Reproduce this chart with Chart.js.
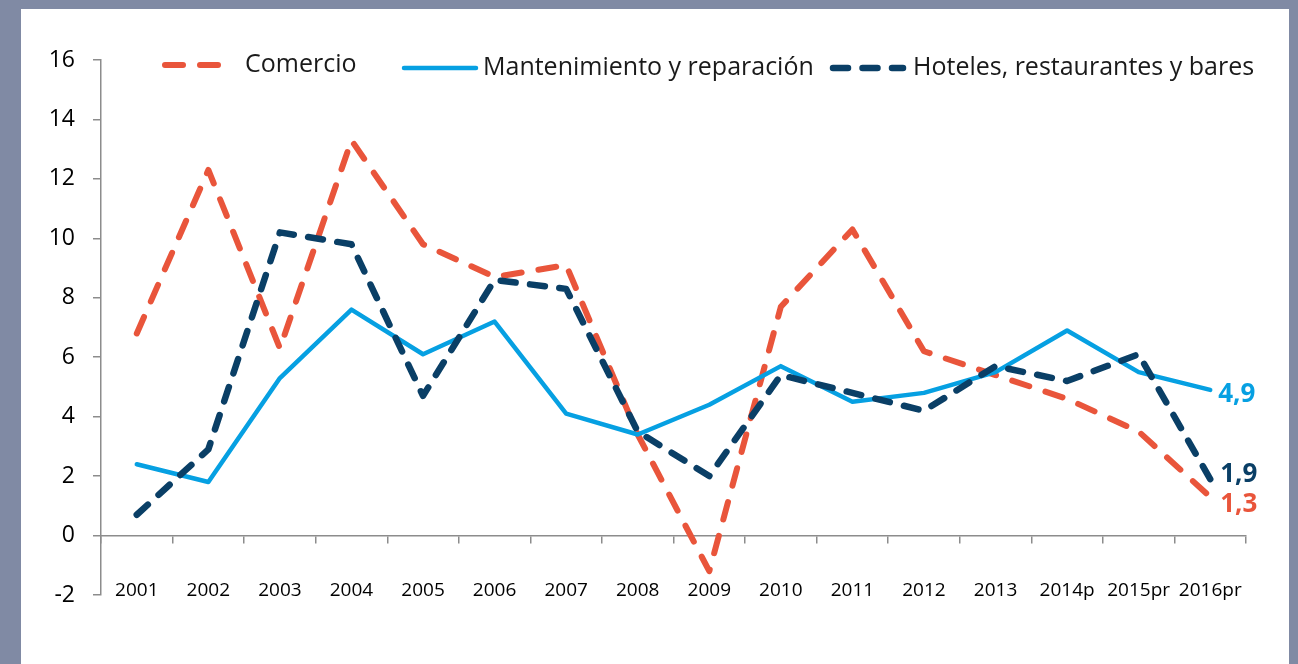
<!DOCTYPE html>
<html>
<head>
<meta charset="utf-8">
<script src="https://cdn.jsdelivr.net/npm/chart.js@4.4.1/dist/chart.umd.min.js"></script>
<style>
  html, body { margin: 0; padding: 0; background: #808aa4; overflow: hidden; }
  #panel { position: absolute; left: 21px; top: 9px; width: 1268px; height: 655px; background: #fff; }
  #wrap { position: absolute; left: 0; top: 0; width: 1298px; height: 664px; }
</style>
</head>
<body>
<div id="panel"></div>
<div id="wrap"><canvas id="chart"></canvas></div>
<script>
// categories (years) and the three series
var categories = ['2001', '2002', '2003', '2004', '2005', '2006', '2007', '2008',
  '2009', '2010', '2011', '2012', '2013', '2014p', '2015pr', '2016pr'];
var comercio = [6.8, 12.3, 6.3, 13.3, 9.8, 8.7, 9.1, 3.4, -1.2, 7.7, 10.3, 6.2, 5.4, 4.6, 3.5, 1.3];
var mantenimiento = [2.4, 1.8, 5.3, 7.6, 6.1, 7.2, 4.1, 3.4, 4.4, 5.7, 4.5, 4.8, 5.5, 6.9, 5.5, 4.9];
var hoteles = [0.7, 2.9, 10.2, 9.8, 4.7, 8.6, 8.3, 3.5, 2.0, 5.4, 4.8, 4.2, 5.7, 5.2, 6.1, 1.9];
var seriesNames = ['Comercio', 'Mantenimiento y reparación', 'Hoteles, restaurantes y bares'];

// y axis range
var yMin = -2;
var yMax = 16;
var yStep = 2;

var FONT = '"Open Sans", "Noto Sans", sans-serif';
var AXIS_GREY = '#8c8c8c';

// where each legend entry sits (line start, line end, text start, middle y)
var legendSpots = [
  { x0: 165, x1: 222, tx: 245, y: 65 },
  { x0: 404, x1: 476, tx: 483, y: 68 },
  { x0: 833, x1: 903, tx: 913, y: 68 }
];

// shift of the value label next to the last point of each series
var endLabelShift = [
  { dx: 10, dy: 15 },
  { dx: 8, dy: 12 },
  { dx: 10, dy: 3 }
];

// legend drawn by hand, the original one overlaps the plot area
var inlineLegend = {
  id: 'inlineLegend',
  afterDraw: function(chart) {
    var ctx = chart.ctx;
    chart.data.datasets.forEach(function(ds, i) {
      var spot = legendSpots[i];
      ctx.save();
      ctx.strokeStyle = ds.borderColor;
      ctx.lineWidth = ds.borderWidth;
      ctx.lineCap = 'round';
      ctx.setLineDash(ds.borderDash || []);
      ctx.beginPath();
      ctx.moveTo(spot.x0, spot.y);
      ctx.lineTo(spot.x1, spot.y);
      ctx.stroke();
      ctx.setLineDash([]);
      ctx.fillStyle = '#1a1a1a';
      ctx.font = '25px ' + FONT;
      ctx.textBaseline = 'middle';
      ctx.fillText(ds.label, spot.tx, spot.y);
      ctx.restore();
    });
  }
};

// last value printed at the end of each line
var endLabels = {
  id: 'endLabels',
  afterDatasetsDraw: function(chart) {
    var ctx = chart.ctx;
    chart.data.datasets.forEach(function(ds, i) {
      var meta = chart.getDatasetMeta(i);
      var last = meta.data[meta.data.length - 1];
      var value = ds.data[ds.data.length - 1];
      ctx.save();
      ctx.font = 'bold 26px ' + FONT;
      ctx.fillStyle = ds.borderColor;
      ctx.textBaseline = 'alphabetic';
      ctx.fillText(value.toFixed(1).replace('.', ','), last.x + endLabelShift[i].dx, last.y + endLabelShift[i].dy);
      ctx.restore();
    });
  }
};

var ctx = document.getElementById('chart').getContext('2d');

var chart = new Chart(ctx, {
  type: 'line',
  data: {
    labels: categories,
    datasets: [
      {
        label: seriesNames[0],
        data: comercio,
        borderColor: '#e9553b',
        borderWidth: 6,
        borderDash: [18, 17],
        borderCapStyle: 'round',
        borderJoinStyle: 'round',
        pointRadius: 0,
        tension: 0,
        order: 3
      },
      {
        label: seriesNames[1],
        data: mantenimiento,
        borderColor: '#06a0e2',
        borderWidth: 4.5,
        borderCapStyle: 'round',
        borderJoinStyle: 'round',
        pointRadius: 0,
        tension: 0,
        order: 2
      },
      {
        label: seriesNames[2],
        data: hoteles,
        borderColor: '#0a3f66',
        borderWidth: 6.5,
        borderDash: [15, 14.5],
        borderCapStyle: 'round',
        borderJoinStyle: 'round',
        pointRadius: 0,
        tension: 0,
        order: 1
      }
    ]
  },
  options: {
    responsive: true,
    maintainAspectRatio: false,
    animation: false,
    layout: {
      padding: { left: 0, top: 60, right: 52, bottom: 69 }
    },
    plugins: {
      legend: { display: false },
      tooltip: { enabled: false }
    },
    scales: {
      x: {
        position: { y: 0 },
        offset: true,
        ticks: {
          color: '#000',
          font: { family: FONT, size: 19 },
          padding: 37,
          autoSkip: false,
          maxRotation: 0
        },
        grid: {
          drawOnChartArea: false,
          offset: true,
          tickLength: 7,
          color: AXIS_GREY,
          lineWidth: 1.5
        },
        border: { color: AXIS_GREY, width: 1.5 }
      },
      y: {
        min: yMin,
        max: yMax,
        ticks: {
          stepSize: yStep,
          color: '#000',
          font: { family: FONT, size: 23 },
          padding: 18
        },
        grid: {
          drawOnChartArea: false,
          tickLength: 8,
          color: AXIS_GREY,
          lineWidth: 1.5
        },
        border: { color: AXIS_GREY, width: 1.5 },
        afterFit: function(scale) {
          scale.width = 101;
        }
      }
    }
  },
  plugins: [inlineLegend, endLabels]
});
</script>
</body>
</html>
